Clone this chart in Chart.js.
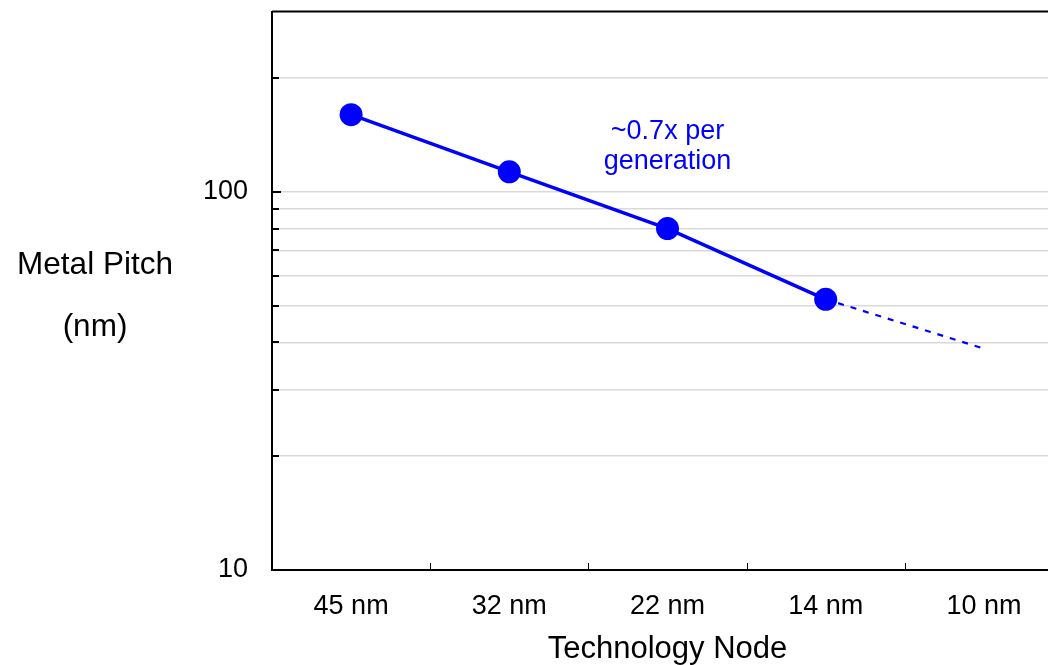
<!DOCTYPE html>
<html>
<head>
<meta charset="utf-8">
<script src="https://cdn.jsdelivr.net/npm/chart.js@4.4.1/dist/chart.umd.min.js"></script>
<style>
  body { margin: 0; overflow: hidden; background: #fff; }
  #wrap { width: 1080px; height: 665px; }
</style>
</head>
<body>
<div id="wrap"><canvas id="pitch"></canvas></div>
<script>
// data
const nodes = ['45 nm', '32 nm', '22 nm', '14 nm', '10 nm']
const pitch = [160, 113, 80, 52, null]
const projected = [null, null, null, 52, 38.5]
const yMin = 10
const yMax = 300
const yTicks = [10, 20, 30, 40, 50, 60, 70, 80, 90, 100, 200, 300]
const yLabels = [10, 100]
const annotText = ['~0.7x per', 'generation']
const annotNode = 2
const annotValue = 144

const FONT = "'Liberation Sans', Arial, sans-serif"
const BLUE = '#0000ff'

const extras = {
  id: 'extras',
  afterDraw: (chart) => {
    const ctx = chart.ctx
    const a = chart.chartArea
    const x = chart.scales.x
    const y = chart.scales.y
    ctx.save()
    ctx.strokeStyle = '#000'

    // top frame line
    ctx.lineWidth = 2
    ctx.beginPath()
    ctx.moveTo(a.left, a.top)
    ctx.lineTo(a.right, a.top)
    ctx.stroke()

    // inward y ticks
    y.ticks.forEach(t => {
      if (t.value <= yMin || t.value >= yMax) return
      const py = Math.round(y.getPixelForValue(t.value))
      const len = yLabels.includes(t.value) ? 9 : 7
      ctx.beginPath()
      ctx.moveTo(a.left, py)
      ctx.lineTo(a.left + len, py)
      ctx.stroke()
    })

    // inward x ticks between categories
    ctx.lineWidth = 1
    for (let i = 1; i <= nodes.length; i++) {
      const px = Math.round(x.getPixelForValue(i - 0.5)) + 0.5
      ctx.beginPath()
      ctx.moveTo(px, a.bottom)
      ctx.lineTo(px, a.bottom - 7)
      ctx.stroke()
    }

    // annotation
    ctx.fillStyle = BLUE
    ctx.font = '27px ' + FONT
    ctx.textAlign = 'center'
    ctx.textBaseline = 'middle'
    const ax = x.getPixelForValue(annotNode)
    const ay = y.getPixelForValue(annotValue)
    annotText.forEach((s, i) => ctx.fillText(s, ax, ay + i * 30))

    // y title, horizontal, two lines
    ctx.fillStyle = '#000'
    ctx.font = '31.5px ' + FONT
    ctx.fillText('Metal Pitch', a.left - 177, 265)
    ctx.fillText('(nm)', a.left - 177, 327)
    ctx.restore()
  }
}

new Chart(document.getElementById('pitch'), {
  type: 'line',
  data: {
    labels: nodes,
    datasets: [
      {
        data: pitch,
        borderColor: BLUE,
        backgroundColor: BLUE,
        borderWidth: 3.5,
        pointRadius: 11.5,
        pointHoverRadius: 11.5,
        pointBackgroundColor: BLUE,
        pointBorderWidth: 0,
        tension: 0
      },
      {
        data: projected,
        borderColor: BLUE,
        borderWidth: 2.2,
        borderDash: [6, 7],
        pointRadius: 0,
        tension: 0
      }
    ]
  },
  options: {
    responsive: true,
    maintainAspectRatio: false,
    animation: false,
    layout: { padding: { top: 10, right: 17, left: 0, bottom: 0 } },
    plugins: { legend: { display: false }, tooltip: { enabled: false } },
    scales: {
      x: {
        type: 'category',
        offset: true,
        grid: { display: false, drawTicks: false },
        border: { display: true, color: '#000', width: 2 },
        ticks: {
          color: '#000',
          font: { family: FONT, size: 27 },
          padding: 20,
          maxRotation: 0
        },
        title: {
          display: true,
          text: 'Technology Node',
          color: '#000',
          font: { family: FONT, size: 31, lineHeight: 1 },
          padding: { top: 0, bottom: 0 }
        },
        afterFit: (s) => { s.height = 95; s.paddingLeft = 0; s.paddingRight = 0 }
      },
      y: {
        type: 'logarithmic',
        min: yMin,
        max: yMax,
        afterBuildTicks: (s) => { s.ticks = yTicks.map(v => ({ value: v })) },
        grid: {
          drawTicks: false,
          color: (c) => (c.tick && (c.tick.value <= yMin || c.tick.value >= yMax)) ? 'rgba(0,0,0,0)' : '#d9d9d9',
          lineWidth: 1.5
        },
        border: { display: true, color: '#000', width: 2 },
        ticks: {
          autoSkip: false,
          color: '#000',
          font: { family: FONT, size: 27 },
          padding: 24,
          callback: (v) => yLabels.includes(v) ? String(v) : ''
        },
        afterFit: (s) => { s.width = 272; s.paddingTop = 0; s.paddingBottom = 0 }
      }
    }
  },
  plugins: [extras]
})
</script>
</body>
</html>
